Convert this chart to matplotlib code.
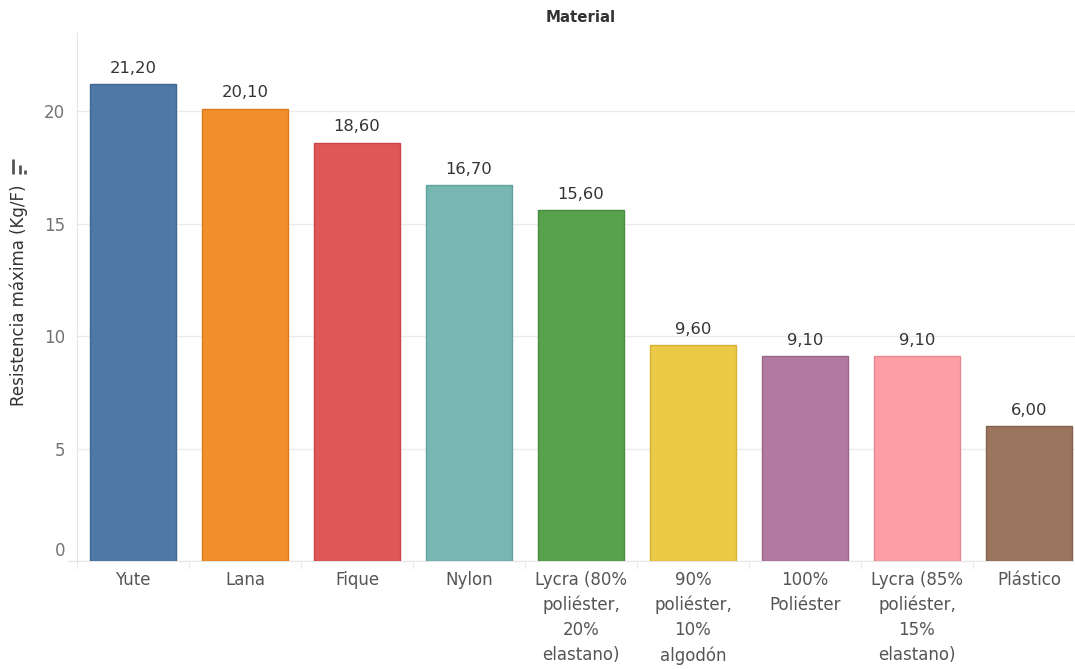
import matplotlib.pyplot as plt
from matplotlib.lines import Line2D
from matplotlib.transforms import ScaledTranslation

materiales = ["Yute", "Lana", "Fique", "Nylon",
              "Lycra (80%\npoliéster,\n20%\nelastano)",
              "90%\npoliéster,\n10%\nalgodón",
              "100%\nPoliéster",
              "Lycra (85%\npoliéster,\n15%\nelastano)",
              "Plástico"]
resistencia = [21.2, 20.1, 18.6, 16.7, 15.6, 9.6, 9.1, 9.1, 6.0]
colores = ["#4e79a7", "#f28e2b", "#e15759", "#76b7b2", "#59a14f",
           "#edc948", "#b07aa1", "#ff9da7", "#9c755f"]
bordes = ["#3f6590", "#d97a1c", "#c94446", "#62a29d", "#478c3f",
          "#d4b236", "#996589", "#e8868f", "#84604c"]

plt.rcParams['font.family'] = ['DejaVu Sans']

fig = plt.figure(figsize=(10.75, 6.69), dpi=100)
ax = fig.add_axes([77 / 1075, 108 / 669, 1008 / 1075, 528 / 669])

x = list(range(len(materiales)))
ax.bar(x, resistencia, width=0.76, color=colores, edgecolor=bordes, linewidth=1, zorder=3)

for xi, v in zip(x, resistencia):
    ax.annotate(f"{v:.2f}".replace(".", ","), (xi, v), xytext=(0, 6),
                textcoords="offset points", ha="center", va="bottom",
                fontsize=11.8, color="#333333")

ax.set_xlim(-0.5, len(materiales) - 0.5)
ax.set_ylim(0, 23.47)
ax.set_yticks([0, 5, 10, 15, 20])
ax.yaxis.grid(True, color="#ebebeb", linewidth=1, zorder=0)
ax.tick_params(axis="y", length=0, pad=8.5, labelsize=12, labelcolor="#737373")

ax.set_xticks(x)
ax.set_xticklabels(materiales, fontsize=12, color="#555555", linespacing=1.5)
ax.set_xticks([i - 0.5 for i in range(len(materiales) + 1)], minor=True)
ax.tick_params(axis="x", which="major", length=0, pad=7)
ax.tick_params(axis="x", which="minor", length=6, color="#e6e6e6")

# la etiqueta del 0 va un poco por encima de la línea base
lbl0 = ax.get_yticklabels()[0]
lbl0.set_transform(lbl0.get_transform() + ScaledTranslation(0, 12 / 100, fig.dpi_scale_trans))

for s in ["top", "right"]:
    ax.spines[s].set_visible(False)
ax.spines["left"].set_color("#e6e6e6")
ax.spines["bottom"].set_color("#e6e6e6")
ax.plot([-9 / 1008, 0], [0, 0], transform=ax.transAxes, color="#e6e6e6",
        linewidth=1, clip_on=False)

ax.set_title("Material", fontsize=10.8, color="#333333", pad=8, fontweight="bold")
fig.text(19 / 1075, 1 - 295 / 669, "Resistencia máxima (Kg/F)", rotation=90,
         ha="center", va="center", fontsize=12, color="#333333")

# icono de orden junto al título del eje
for x0, top in [(13, 159), (19.5, 165), (25, 170)]:
    fig.add_artist(Line2D([x0 / 1075] * 2, [1 - 174 / 669, 1 - top / 669],
                          color="#555555", linewidth=2, solid_capstyle="butt"))

fig.savefig("out.png", dpi=100)
